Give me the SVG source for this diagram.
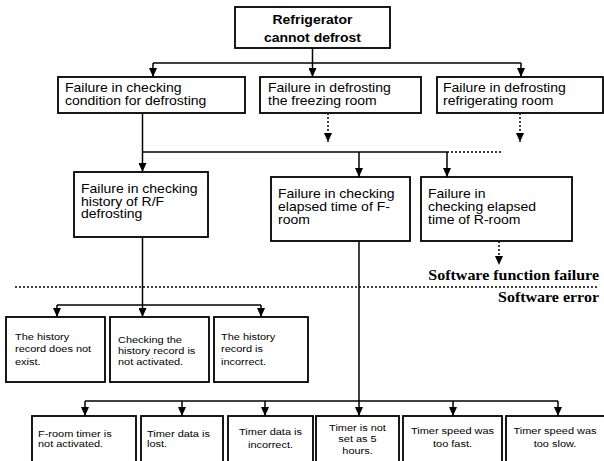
<svg xmlns="http://www.w3.org/2000/svg" width="604" height="461" viewBox="0 0 604 461">
<style>
.box{fill:#fff;stroke:#000;stroke-width:1.8}
.t{font-family:"Liberation Sans",Arial,sans-serif;font-size:12px;fill:#000}
.tb{font-weight:bold}
.ts{font-size:9.4px}
.sf{font-family:"Liberation Serif","Times New Roman",serif;font-weight:bold;font-size:13.7px;fill:#000}
.ln{stroke:#000;stroke-width:1.5;fill:none}
.dt{stroke-dasharray:2 2}
</style>
<defs>
<marker id="ah" markerUnits="userSpaceOnUse" markerWidth="9" markerHeight="8" refX="9" refY="4" orient="auto">
<path d="M0,0 L9,4 L0,8 z" fill="#000"/>
</marker>
</defs>
<rect width="604" height="461" fill="#fff"/>
<g id="connectors">
<path class="ln" d="M312.5,48 V77" marker-end="url(#ah)"/>
<path class="ln" d="M153,63 H521"/>
<path class="ln" d="M153,63 V77" marker-end="url(#ah)"/>
<path class="ln" d="M521,63 V77" marker-end="url(#ah)"/>
<path class="ln dt" d="M328,113 V142" marker-end="url(#ah)"/>
<path class="ln dt" d="M520,113 V142" marker-end="url(#ah)"/>
<path class="ln" d="M142.5,113 V172" marker-end="url(#ah)"/>
<path class="ln" d="M142.5,152 H447"/>
<path class="ln dt" d="M447,152 H503"/>
<path class="ln" d="M359,152 V177" marker-end="url(#ah)"/>
<path class="ln" d="M447,152 V177" marker-end="url(#ah)"/>
<path class="ln dt" d="M499,241 V265" marker-end="url(#ah)"/>
<path class="ln dt" d="M15,287 H599"/>
<path class="ln" d="M142.5,237 V317" marker-end="url(#ah)"/>
<path class="ln" d="M57,305 H261"/>
<path class="ln" d="M57,305 V317" marker-end="url(#ah)"/>
<path class="ln" d="M261,305 V317" marker-end="url(#ah)"/>
<path class="ln" d="M359,241 V416" marker-end="url(#ah)"/>
<path class="ln" d="M85,401 H558"/>
<path class="ln" d="M85,401 V416" marker-end="url(#ah)"/>
<path class="ln" d="M182,401 V416" marker-end="url(#ah)"/>
<path class="ln" d="M265,401 V416" marker-end="url(#ah)"/>
<path class="ln" d="M453,401 V416" marker-end="url(#ah)"/>
<path class="ln" d="M558,401 V416" marker-end="url(#ah)"/>
</g>
<g id="n-root">
<rect class="box" x="235" y="7" width="155" height="41"/>
<text class="t tb" text-anchor="middle" transform="translate(312.5 24) scale(1.1667 1)"><tspan x="0" y="0">Refrigerator</tspan><tspan x="0" y="18.5">cannot defrost</tspan></text>
</g>
<g id="n-check-cond">
<rect class="box" x="58" y="77" width="187" height="36"/>
<text class="t" transform="translate(65 91.5) scale(1.1667 1)"><tspan x="0" y="0">Failure in checking</tspan><tspan x="0" y="14">condition for defrosting</tspan></text>
</g>
<g id="n-defrost-f">
<rect class="box" x="260" y="77" width="161" height="36"/>
<text class="t" transform="translate(268 91.5) scale(1.1667 1)"><tspan x="0" y="0">Failure in defrosting</tspan><tspan x="0" y="14">the freezing room</tspan></text>
</g>
<g id="n-defrost-r">
<rect class="box" x="437" y="77" width="166" height="36"/>
<text class="t" transform="translate(443 91.5) scale(1.1667 1)"><tspan x="0" y="0">Failure in defrosting</tspan><tspan x="0" y="14">refrigerating room</tspan></text>
</g>
<g id="n-history">
<rect class="box" x="74" y="172" width="134" height="65"/>
<text class="t" transform="translate(81 193) scale(1.1667 1)"><tspan x="0" y="0">Failure in checking</tspan><tspan x="0" y="12.7">history of R/F</tspan><tspan x="0" y="25.4">defrosting</tspan></text>
</g>
<g id="n-elapsed-f">
<rect class="box" x="271" y="177" width="139" height="64"/>
<text class="t" transform="translate(278 198) scale(1.1667 1)"><tspan x="0" y="0">Failure in checking</tspan><tspan x="0" y="13">elapsed time of F-</tspan><tspan x="0" y="26">room</tspan></text>
</g>
<g id="n-elapsed-r">
<rect class="box" x="421" y="177" width="151" height="64"/>
<text class="t" transform="translate(428 198) scale(1.1667 1)"><tspan x="0" y="0">Failure in</tspan><tspan x="0" y="13">checking elapsed</tspan><tspan x="0" y="26">time of R-room</tspan></text>
</g>
<g id="labels">
<text class="sf" text-anchor="end" transform="translate(599 280) scale(1.1667 1)">Software function failure</text>
<text class="sf" text-anchor="end" transform="translate(599 302) scale(1.1667 1)">Software error</text>
</g>
<g id="n-h1">
<rect class="box" x="6" y="317" width="99" height="65"/>
<text class="t ts" transform="translate(15 340) scale(1.1667 1)"><tspan x="0" y="0">The history</tspan><tspan x="0" y="12.5">record does not</tspan><tspan x="0" y="25">exist.</tspan></text>
</g>
<g id="n-h2">
<rect class="box" x="110" y="317" width="99" height="65"/>
<text class="t ts" transform="translate(118 343) scale(1.1667 1)"><tspan x="0" y="0">Checking the</tspan><tspan x="0" y="11">history record is</tspan><tspan x="0" y="22">not activated.</tspan></text>
</g>
<g id="n-h3">
<rect class="box" x="214" y="317" width="94" height="65"/>
<text class="t ts" transform="translate(221 340) scale(1.1667 1)"><tspan x="0" y="0">The history</tspan><tspan x="0" y="12.5">record is</tspan><tspan x="0" y="25">incorrect.</tspan></text>
</g>
<g id="n-t1">
<rect class="box" x="32" y="416" width="104" height="60"/>
<text class="t ts" transform="translate(38 436.5) scale(1.1667 1)"><tspan x="0" y="0">F-room timer is</tspan><tspan x="0" y="11">not activated.</tspan></text>
</g>
<g id="n-t2">
<rect class="box" x="141" y="416" width="82" height="60"/>
<text class="t ts" transform="translate(147 436.5) scale(1.1667 1)"><tspan x="0" y="0">Timer data is</tspan><tspan x="0" y="11">lost.</tspan></text>
</g>
<g id="n-t3">
<rect class="box" x="228" y="416" width="85" height="60"/>
<text class="t ts" text-anchor="middle" transform="translate(270.5 434.5) scale(1.1667 1)"><tspan x="0" y="0">Timer data is</tspan><tspan x="0" y="13.5">incorrect.</tspan></text>
</g>
<g id="n-t4">
<rect class="box" x="316" y="416" width="83" height="60"/>
<text class="t ts" text-anchor="middle" transform="translate(357.5 431) scale(1.1667 1)"><tspan x="0" y="0">Timer is not</tspan><tspan x="0" y="11.5">set as 5</tspan><tspan x="0" y="23">hours.</tspan></text>
</g>
<g id="n-t5">
<rect class="box" x="403" y="416" width="99" height="60"/>
<text class="t ts" text-anchor="middle" transform="translate(452.5 434) scale(1.1667 1)"><tspan x="0" y="0">Timer speed was</tspan><tspan x="0" y="13.5">too fast.</tspan></text>
</g>
<g id="n-t6">
<rect class="box" x="506" y="416" width="100" height="60"/>
<text class="t ts" text-anchor="middle" transform="translate(555 434) scale(1.1667 1)"><tspan x="0" y="0">Timer speed was</tspan><tspan x="0" y="13.5">too slow.</tspan></text>
</g>
</svg>
